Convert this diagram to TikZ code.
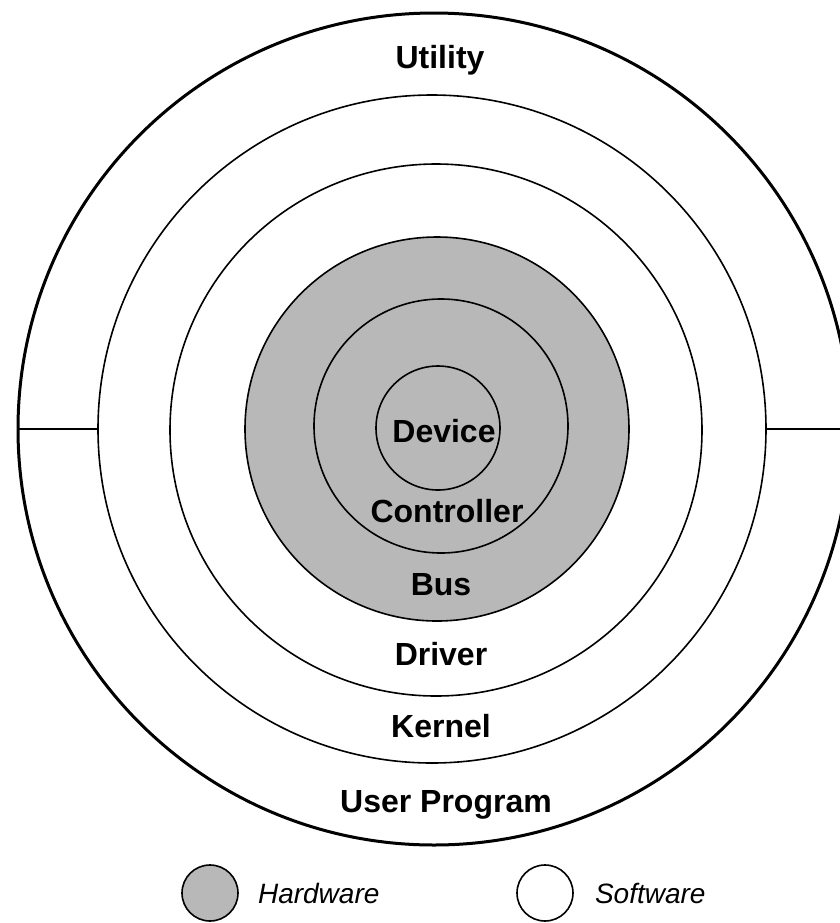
\documentclass[tikz,border=0pt]{standalone}
\usepackage{fontspec}
\setmainfont{Liberation Sans}
\usepackage{tikz}

\tikzset{
  layer/.style={circle,draw,inner sep=0pt,outer sep=0pt,line width=0.8pt},
  hw/.style={fill=black!28},
  layername/.style={anchor=base,font=\bfseries\fontsize{16}{18}\selectfont},
  keytext/.style={anchor=base west,font=\itshape\fontsize{14}{16}\selectfont}
}

\begin{document}
\begin{tikzpicture}[x=0.5pt,y=-0.5pt]
  \useasboundingbox (0,0) rectangle (840,923);

  % rings, outside in
  \node[layer,line width=1.5pt,minimum size=416pt] (userring) at (434,429) {};
  \node[layer,minimum size=334pt] (kernelring) at (432,429) {};
  \node[layer,minimum size=266pt] (driverring) at (436,430) {};
  \node[layer,hw,minimum size=192pt] (busring) at (437,429) {};
  \node[layer,minimum size=127pt] (ctrlring) at (441,426) {};
  \node[layer,minimum size=62pt] (devring) at (438,428) {};

  \draw[line width=0.8pt] (userring.west)--(kernelring.west);
  \draw[line width=0.8pt] (kernelring.east)--(userring.east);

  % layer names
  \node[layername] (utility) at (440,68) {Utility};
  \node[layername] (device) at (444,442) {Device};
  \node[layername] (controller) at (447,522) {Controller};
  \node[layername] (bus) at (441,595) {Bus};
  \node[layername] (driver) at (441,665) {Driver};
  \node[layername] (kernel) at (441,737) {Kernel};
  \node[layername] (userprog) at (446,812) {User Program};

  % key
  \node[layer,hw,minimum size=28pt] (hwkey) at (210,893) {};
  \node[keytext] (hwtext) at (251,903) {Hardware};
  \node[layer,minimum size=28pt] (swkey) at (545,893) {};
  \node[keytext] (swtext) at (588,903) {Software};
\end{tikzpicture}
\end{document}
